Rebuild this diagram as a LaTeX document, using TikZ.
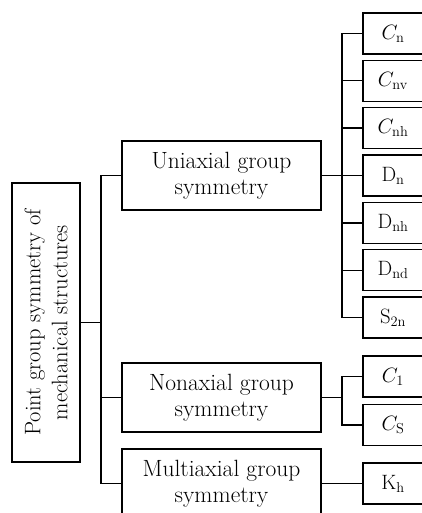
\documentclass[tikz,border=0pt]{standalone}
\begin{document}
\begin{tikzpicture}[x=1pt,y=-1pt,
  box/.style={draw,line width=1.4pt,inner sep=0pt,align=center,
    font=\fontsize{22}{25}\selectfont},
  midbox/.style={box,minimum width=199pt,minimum height=69pt,
    font=\fontsize{23.5}{25.5}\selectfont},
  leafbox/.style={box,minimum width=60pt,minimum height=41pt},
  conn/.style={line width=1.4pt}]
\useasboundingbox (0,0) rectangle (422,513);
\begin{scope}
\clip (0,0) rectangle (422,513);
% root
\node[box,rotate=90,minimum width=279pt,minimum height=68pt,
  font=\fontsize{22.5}{27}\selectfont] (root) at (46,322.5)
  {Point group symmetry of\\mechanical structures};
% middle level
\node[midbox] (uni) at (221.5,175.5) {Uniaxial group\\symmetry};
\node[midbox] (non) at (221.5,397.5) {Nonaxial group\\symmetry};
\node[midbox] (mul) at (221.5,483.5) {Multiaxial group\\symmetry};
% leaves
\node[leafbox] (cn)  at (393,33.5)  {$C_{\mathrm{n}}$};
\node[leafbox] (cnv) at (393,80.8)  {$C_{\mathrm{nv}}$};
\node[leafbox] (cnh) at (393,128.2) {$C_{\mathrm{nh}}$};
\node[leafbox] (dn)  at (393,175.5) {$\mathrm{D}_{\mathrm{n}}$};
\node[leafbox] (dnh) at (393,222.8) {$\mathrm{D}_{\mathrm{nh}}$};
\node[leafbox] (dnd) at (393,270.2) {$\mathrm{D}_{\mathrm{nd}}$};
\node[leafbox] (stn) at (393,317.5) {$\mathrm{S}_{\mathrm{2n}}$};
\node[leafbox] (c1)  at (393,376.5) {$C_{1}$};
\node[leafbox] (cs)  at (393,425)   {$C_{\mathrm{S}}$};
\node[leafbox] (kh)  at (393,483.5) {$\mathrm{K}_{\mathrm{h}}$};
% buses
\coordinate (b0) at (101,322.5);
\coordinate (b1) at (342,175.5);
\coordinate (b2) at (342,397.5);
\draw[conn] (root.south) -- (b0);
\foreach \n in {uni,non,mul} \draw[conn] (b0) |- (\n.west);
\draw[conn] (uni.east) -- (b1);
\foreach \n in {cn,cnv,cnh,dn,dnh,dnd,stn} \draw[conn] (b1) |- (\n.west);
\draw[conn] (non.east) -- (b2);
\foreach \n in {c1,cs} \draw[conn] (b2) |- (\n.west);
\draw[conn] (mul.east) -- (kh.west);
\end{scope}
\end{tikzpicture}
\end{document}
